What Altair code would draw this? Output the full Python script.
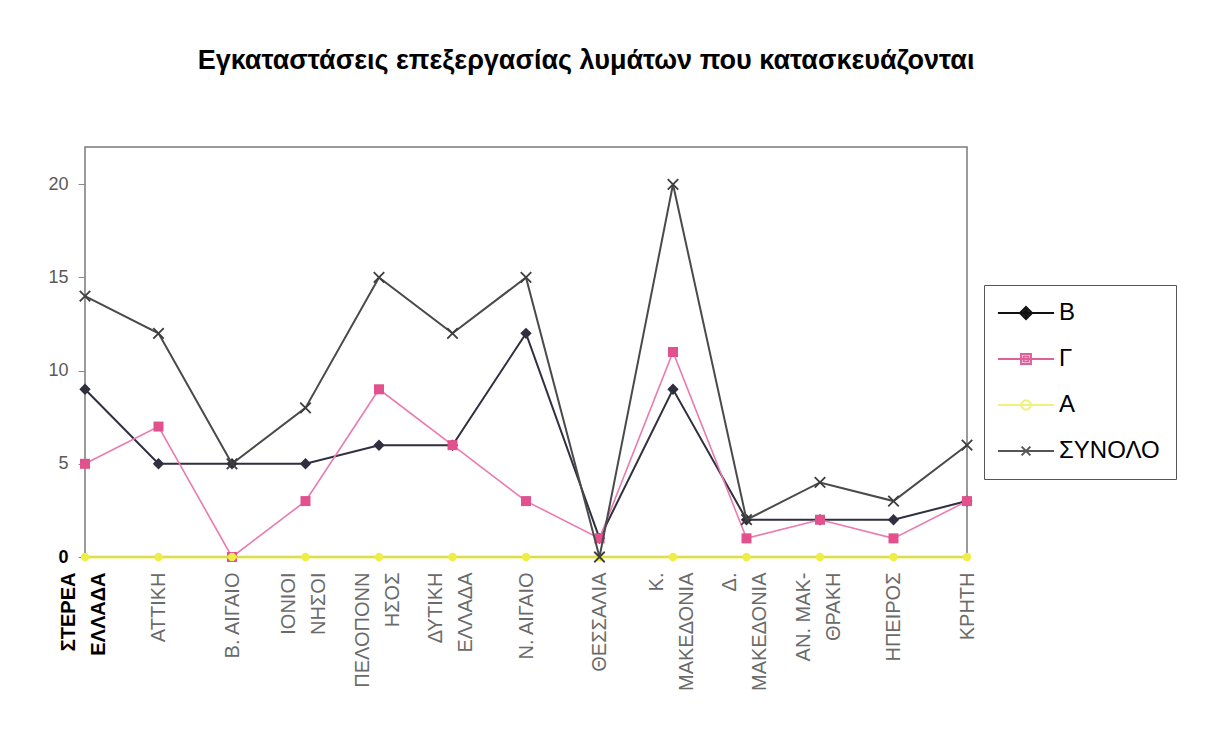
import altair as alt
import pandas as pd

# ---- data ----
regions = [
    "ΣΤΕΡΕΑ\nΕΛΛΑΔΑ", "ΑΤΤΙΚΗ", "Β. ΑΙΓΑΙΟ", "ΙΟΝΙΟΙ\nΝΗΣΟΙ", "ΠΕΛΟΠΟΝΝ\nΗΣΟΣ",
    "ΔΥΤΙΚΗ\nΕΛΛΑΔΑ", "Ν. ΑΙΓΑΙΟ", "ΘΕΣΣΑΛΙΑ", "Κ.\nΜΑΚΕΔΟΝΙΑ", "Δ.\nΜΑΚΕΔΟΝΙΑ",
    "ΑΝ. ΜΑΚ-\nΘΡΑΚΗ", "ΗΠΕΙΡΟΣ", "ΚΡΗΤΗ",
]
b_vals = [9, 5, 5, 5, 6, 6, 12, 1, 9, 2, 2, 2, 3]
g_vals = [5, 7, 0, 3, 9, 6, 3, 1, 11, 1, 2, 1, 3]
a_vals = [0, 0, 0, 0, 0, 0, 0, 0, 0, 0, 0, 0, 0]
total_vals = [14, 12, 5, 8, 15, 12, 15, 0, 20, 2, 4, 3, 6]
series_names = ["Β", "Γ", "Α", "ΣΥΝΟΛΟ"]
y_ticks = [0, 5, 10, 15, 20]
title_text = "Εγκαταστάσεις επεξεργασίας λυμάτων που κατασκευάζονται"

# ---- styles ----
line_colors = ["#2f2f40", "#ea7ab0", "#eeee44", "#4a4a4a"]
marker_colors = ["#2f2f40", "#e2508e", "#eeee44", "#3e3e3e"]
legend_colors = ["#111111", "#e0609a", "#f0f080", "#555555"]
legend_paths = [
    "M-2.55,0H2.55M0,-0.55L0.55,0L0,0.55L-0.55,0ZM0,-0.27L0.27,0L0,0.27L-0.27,0Z",
    "M-2.55,0H2.55M-0.45,-0.45H0.45V0.45H-0.45ZM-0.22,-0.22H0.22V0.22H-0.22Z",
    "M-2.55,0H2.55M-0.17,-0.41L0.17,-0.41L0.41,-0.17L0.41,0.17L0.17,0.41L-0.17,0.41L-0.41,0.17L-0.41,-0.17Z",
    "M-2.55,0H2.55M-0.4,-0.4L0.4,0.4M-0.4,0.4L0.4,-0.4",
]
FONT = "Liberation Sans"

rows = []
for s, vals in zip(series_names, [b_vals, g_vals, a_vals, total_vals]):
    for r, v in zip(regions, vals):
        rows.append({"series": s, "region": r, "value": v})
df = pd.DataFrame(rows)

two_line = "indexof(datum.value, '\\n') >= 0"
first_lbl = "indexof(datum.value, 'ΣΤΕΡΕΑ') === 0"

x_enc = alt.X(
    "region:N",
    sort=regions,
    scale=alt.Scale(type="point", padding=0),
    axis=alt.Axis(
        title=None,
        labelAngle=270,
        labelFont=FONT,
        labelFontSize=20,
        labelLineHeight=30,
        labelPadding=15,
        labelExpr="split(datum.label, '\\n')",
        labelOffset={"condition": {"test": two_line, "value": -17}, "value": 0},
        labelColor={"condition": {"test": first_lbl, "value": "#000000"}, "value": "#6a6a6a"},
        labelFontWeight={"condition": {"test": first_lbl, "value": "bold"}, "value": "normal"},
        labelOverlap=False,
        labelLimit=300,
        ticks=False,
        domain=False,
        grid=False,
    ),
)
y_enc = alt.Y(
    "value:Q",
    scale=alt.Scale(domain=[0, 22], nice=False),
    axis=alt.Axis(
        title=None,
        values=y_ticks,
        labelFont=FONT,
        labelFontSize=18,
        labelColor={"condition": {"test": "datum.value === 0", "value": "#000000"}, "value": "#5a5a5a"},
        labelFontWeight={"condition": {"test": "datum.value === 0", "value": "bold"}, "value": "normal"},
        tickColor="#8a8a8a",
        tickSize=7,
        labelPadding=10,
        domain=False,
        grid=False,
    ),
)

base = alt.Chart(df).encode(x=x_enc, y=y_enc)

def sel(s):
    return base.transform_filter(alt.datum.series == s)

layers = []
# B
layers.append(sel("Β").mark_line(color=line_colors[0], strokeWidth=2))
layers.append(sel("Β").mark_point(shape="diamond", filled=True, size=130, color=marker_colors[0], opacity=1))
# Γ
layers.append(sel("Γ").mark_line(color=line_colors[1], strokeWidth=1.6))
layers.append(sel("Γ").mark_point(shape="square", filled=True, size=100, color=marker_colors[1], opacity=1))
# Α
layers.append(sel("Α").mark_line(color=line_colors[2], strokeWidth=3, opacity=0.8))
layers.append(sel("Α").mark_point(shape="circle", filled=True, size=70, color=marker_colors[2], opacity=1))
# ΣΥΝΟΛΟ
layers.append(sel("ΣΥΝΟΛΟ").mark_line(color=line_colors[3], strokeWidth=2))
layers.append(sel("ΣΥΝΟΛΟ").mark_point(shape="M-1,-1L1,1M-1,1L1,-1", size=110, strokeWidth=1.8,
                                       color=marker_colors[3], opacity=1))

legend_cfg = dict(
    orient="none", legendX=899, legendY=138, title=None,
    symbolSize=484, symbolStrokeWidth=2, symbolOffset=14,
    labelFont=FONT, labelFontSize=24, labelColor="#000000", labelOffset=21, labelLimit=300,
    rowPadding=22, padding=16, strokeColor="#555555", fillColor="#ffffff",
)
legend_layer = alt.Chart(df).transform_filter("false").mark_point(filled=False, strokeWidth=2, opacity=1).encode(
    color=alt.Color("series:N", scale=alt.Scale(domain=series_names, range=legend_colors),
                    legend=alt.Legend(**legend_cfg)),
    shape=alt.Shape("series:N", scale=alt.Scale(domain=series_names, range=legend_paths),
                    legend=alt.Legend(**legend_cfg)),
)
layers.append(legend_layer)

chart = alt.layer(*layers).properties(
    width=882,
    height=410,
    autosize=alt.AutoSizeParams(type="none"),
    padding={"left": 85, "top": 147, "right": 244, "bottom": 174},
    background="#ffffff",
    title=alt.TitleParams(
        text=title_text, font=FONT, fontSize=27, fontWeight="bold", color="#000000",
        anchor="middle", frame="group", dx=60, offset=72,
    ),
).configure_view(
    fill="#dedede", stroke="#7a7a7a", strokeWidth=1.5,
)

chart.save("out.html", embed_options={"renderer": "svg", "actions": False})
